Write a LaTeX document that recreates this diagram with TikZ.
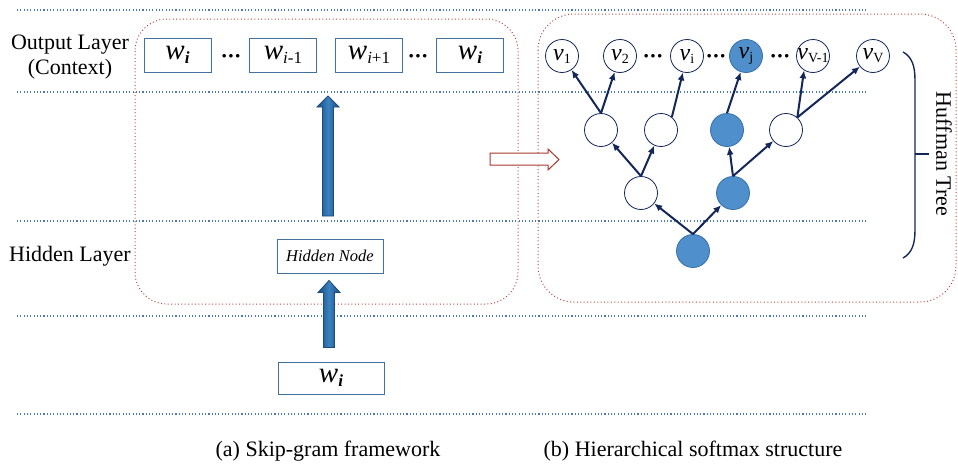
\documentclass[tikz,border=0pt]{standalone}
\usepackage{fontspec}
\setmainfont{Liberation Serif}
\usetikzlibrary{arrows.meta,calc}
\definecolor{navy}{HTML}{14275A}
\definecolor{boxblue}{HTML}{41719C}
\definecolor{dotblue}{HTML}{4A78AE}
\definecolor{dotred}{HTML}{B5473F}
\definecolor{nodefill}{HTML}{4F8FCB}
\definecolor{nodeedge}{HTML}{3670A8}
\definecolor{arrdark}{HTML}{1B4C7C}
\definecolor{arrlight}{HTML}{3A82C2}
\definecolor{openred}{HTML}{A8372F}
\newcommand\wsub[1]{{\fontsize{29}{29}\selectfont\itshape w}\raisebox{-4pt}{\fontsize{17}{17}\selectfont #1}}
\newcommand\vsub[1]{{\fontsize{24}{24}\selectfont\itshape v}\raisebox{-3pt}{\fontsize{14}{14}\selectfont #1}}
\newcommand\threedots{\textbf{·\kern-0.6pt·\kern-0.6pt·}}
\begin{document}
\begin{tikzpicture}[x=1pt,y=-1pt,
  hline/.style={dotblue,line width=1.1pt,dash pattern=on 1.1pt off 2.2pt},
  frame/.style={dotred,line width=1pt,dash pattern=on 1pt off 2.4pt,rounded corners=32pt},
  wbox/.style={draw=boxblue,line width=0.9pt,fill=white,minimum width=67pt,minimum height=34pt,inner sep=0pt},
  hbox/.style={draw=boxblue,line width=0.9pt,fill=white,minimum width=106pt,minimum height=34pt,inner sep=0pt},
  cw/.style={circle,draw=navy,line width=0.8pt,fill=white,minimum size=33pt,inner sep=0pt},
  cf/.style={circle,draw=nodeedge,line width=0.8pt,fill=nodefill,minimum size=33pt,inner sep=0pt},
  lbl/.style={font=\fontsize{22}{25}\selectfont,align=center},
  edge/.style={navy,line width=2pt,-{Latex[length=8pt,width=7pt]}},
  fat/.style={draw=arrdark,line width=0.8pt,left color=arrdark,right color=arrdark,middle color=arrlight},
  dots/.style={font=\fontsize{22}{22}\selectfont,inner sep=0pt}
]
\useasboundingbox (0,0) rectangle (958,463);

% horizontal dotted layer lines
\foreach \yy in {10,92,221,316,414}
  \draw[hline] (17,\yy) -- (868,\yy);

% frames
\draw[frame] (135,19) rectangle (518,304);
\draw[frame,rounded corners=36pt] (538,14) rectangle (956,302);

% left labels
\node[lbl] (outlbl) at (70,57) {Output Layer\\(Context)};
\node[lbl] (hidlbl) at (70,256) {Hidden Layer};

% output boxes
\node[wbox] (b1) at (177.5,55) {\wsub{\textbf{\textit{i}}}};
\node[dots] (d1) at (231,59) {\threedots};
\node[wbox] (b2) at (283,55) {\wsub{\textit{i}-1}};
\node[wbox] (b3) at (369,55) {\wsub{\textit{i}+1}};
\node[dots] (d2) at (418,59) {\threedots};
\node[wbox] (b4) at (470,55) {\wsub{\textbf{\textit{i}}}};

% hidden and input
\node[hbox] (hid) at (330,256) {\fontsize{16.5}{16.5}\selectfont\itshape Hidden Node};
\node[hbox,minimum height=32pt] (inp) at (331,378) {\wsub{\textbf{\textit{i}}}};

% fat arrows
\coordinate (a1t) at (328,96);
\coordinate (a1b) at (328,216);
\coordinate (a2t) at ($(hid.south)+(-1,7)$);
\coordinate (a2b) at ($(inp.north)+(-2,-14)$);
\shadedraw[fat] ($(a1b)+(-5.5,0)$) -- ($(a1t)+(-5.5,11)$) -- ($(a1t)+(-11,11)$) -- (a1t)
   -- ($(a1t)+(11,11)$) -- ($(a1t)+(5.5,11)$) -- ($(a1b)+(5.5,0)$) -- cycle;
\shadedraw[fat] ($(a2b)+(-5.5,0)$) -- ($(a2t)+(-5.5,12)$) -- ($(a2t)+(-11,12)$) -- (a2t)
   -- ($(a2t)+(11,12)$) -- ($(a2t)+(5.5,12)$) -- ($(a2b)+(5.5,0)$) -- cycle;

% open red arrow
\draw[openred,line width=1pt,fill=white] (490,153) -- (548,153) -- (548,149) -- (559,159.5)
   -- (548,170) -- (548,165) -- (490,165) -- cycle;

% tree
\node[cw,label={center:\vsub{1}}] (v1) at (562,56) {};
\node[cw,label={center:\vsub{2}}] (v2) at (620,56) {};
\node[dots] (t1) at (653,59) {\threedots};
\node[cw,label={center:\vsub{i}}] (vi) at (687,56) {};
\node[dots] (t2) at (716,59) {\threedots};
\node[cf,label={center:\vsub{j}}] (vj) at (746,56) {};
\node[dots] (t3) at (780,59) {\threedots};
\node[cw,label={center:\vsub{V-1}}] (vV1) at (813,56) {};
\node[cw,label={center:\vsub{V}}] (vV) at (873,56) {};

\node[cw] (n21) at (601,130) {};
\node[cw] (n22) at (661,130) {};
\node[cf] (n23) at (727,130) {};
\node[cw] (n24) at (786,130) {};

\node[cw] (n31) at (641,193) {};
\node[cf] (n32) at (733,193) {};

\node[cf] (root) at (693,251) {};

\draw[edge] (n21.north) -- (v1);
\draw[edge] (n21.north) -- (v2);
\draw[edge] (n22.50) -- (vi);
\draw[edge] (n23.north) -- (vj);
\draw[edge] (n24.48) -- (vV1.238);
\draw[edge] (n24.48) -- (vV);
\draw[edge] (n31.north) -- (n21);
\draw[edge] (n31.north) -- (n22);
\draw[edge] (n32.north) -- (n23);
\draw[edge] (n32.north) -- (n24);
\draw[edge] (root.north) -- (n31);
\draw[edge] (root.north) -- (n32);

% Huffman brace
\draw[navy,line width=1.4pt] (903,52) .. controls (912,57) and (915,66) .. (915,80) -- (915,230)
   .. controls (915,244) and (912,253) .. (903,258);
\draw[navy,line width=1.4pt] (915,154) -- (929,154);
\node[lbl,rotate=-90] (huff) at (944,154) {Huffman Tree};

% captions
\node[lbl] (capa) at (328,451) {(a) Skip-gram framework};
\node[lbl] (capb) at (693,451) {(b) Hierarchical softmax structure};
\end{tikzpicture}
\end{document}
